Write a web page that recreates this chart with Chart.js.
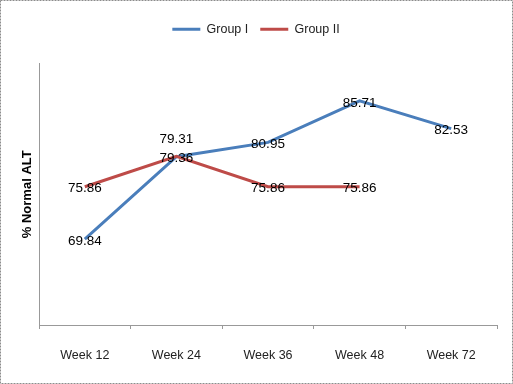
<!DOCTYPE html>
<html>
<head>
<meta charset="utf-8">
<script src="https://cdn.jsdelivr.net/npm/chart.js@4"></script>
<style>
  body { margin: 0; background: #fff; }
  canvas { display: block; }
</style>
</head>
<body>
<canvas id="lineChart" width="513" height="384"></canvas>
<script>
// data
var weeks = ['Week 12', 'Week 24', 'Week 36', 'Week 48', 'Week 72'];
var groupOne = [69.84, 79.31, 80.95, 85.71, 82.53];
var groupTwo = [75.86, 79.36, 75.86, 75.86, null];
var yMin = 60;
var yMax = 90;

var fontName = "'Liberation Sans', Arial, sans-serif";

// dashed frame around the whole picture
var framePlugin = {
    id: 'frame',
    beforeDraw: function(chart) {
        var c = chart.ctx;
        c.save();
        c.fillStyle = '#fff';
        c.fillRect(0, 0, chart.width, chart.height);
        c.strokeStyle = '#8c8c8c';
        c.lineWidth = 1;
        c.setLineDash([2, 1]);
        c.strokeRect(0.5, 0.5, chart.width - 1, chart.height - 1);
        c.restore();
    }
};

// value labels centred on the points
var labelPlugin = {
    id: 'valueLabels',
    afterDatasetsDraw: function(chart) {
        var c = chart.ctx;
        c.save();
        c.font = '13.5px ' + fontName;
        c.fillStyle = '#000';
        c.textAlign = 'center';
        c.textBaseline = 'middle';
        chart.data.datasets.forEach(function(ds, di) {
            var meta = chart.getDatasetMeta(di);
            meta.data.forEach(function(pt, i) {
                if (ds.data[i] == null) return;
                var dy = 2;
                // two labels sit on top of each other at week 24
                if (di === 0 && i === 1) dy = -17;
                c.fillText(ds.data[i].toFixed(2), pt.x, pt.y + dy);
            });
        });
        c.restore();
    }
};

var ctx = document.getElementById('lineChart').getContext('2d');
var myChart = new Chart(ctx, {
    type: 'line',
    data: {
        labels: weeks,
        datasets: [{
            label: 'Group I',
            data: groupOne,
            borderColor: '#4a7ebb',
            backgroundColor: '#4a7ebb',
            borderWidth: 3,
            pointRadius: 0,
            tension: 0,
            order: 1
        }, {
            label: 'Group II',
            data: groupTwo,
            borderColor: '#be4b48',
            backgroundColor: '#be4b48',
            borderWidth: 3,
            pointRadius: 0,
            tension: 0,
            order: 0
        }]
    },
    options: {
        responsive: false,
        animation: false,
        layout: {
            padding: { left: 15, right: 16, top: 11, bottom: 0 }
        },
        plugins: {
            tooltip: { enabled: false },
            // empty title used only as a gap between legend and plot
            title: {
                display: true,
                text: ' ',
                weight: 500,
                font: { size: 1, lineHeight: 1 },
                padding: { top: 9, bottom: 8 }
            },
            legend: {
                position: 'top',
                labels: {
                    usePointStyle: true,
                    pointStyle: 'line',
                    pointStyleWidth: 28,
                    color: '#222',
                    font: { family: fontName, size: 12.5 },
                    padding: 12,
                    sort: function(a, b) { return a.datasetIndex - b.datasetIndex; }
                }
            }
        },
        scales: {
            x: {
                offset: true,
                grid: {
                    display: true,
                    drawOnChartArea: false,
                    drawTicks: true,
                    tickLength: 4,
                    offset: true,
                    color: '#999'
                },
                border: { color: '#999', dash: [2, 1] },
                ticks: {
                    color: '#222',
                    font: { family: fontName, size: 12.5 },
                    padding: 19
                },
                afterFit: function(scale) { scale.height = 59; }
            },
            y: {
                min: yMin,
                max: yMax,
                grid: { display: false },
                border: { color: '#999', dash: [2, 1] },
                ticks: { display: false },
                title: {
                    display: true,
                    text: '% Normal ALT',
                    color: '#000',
                    font: { family: fontName, size: 13, weight: 'bold' },
                    padding: { top: 5, bottom: 0 }
                },
                afterFit: function(scale) { scale.width = 24; }
            }
        }
    },
    plugins: [framePlugin, labelPlugin]
});
</script>
</body>
</html>
